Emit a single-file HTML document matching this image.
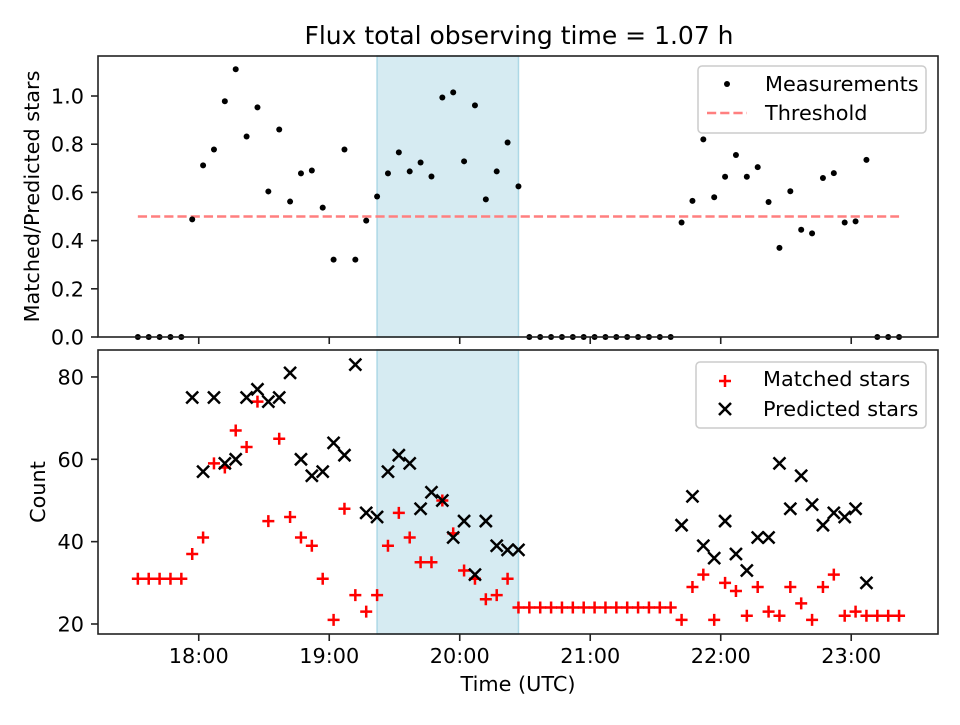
<!DOCTYPE html>
<html><head><meta charset="utf-8"><style>
body{margin:0;background:#fff;}
svg text{font-family:"DejaVu Sans","Liberation Sans",sans-serif;fill:#000;}
</style></head><body>
<svg id="chart" width="960" height="720" xmlns="http://www.w3.org/2000/svg"></svg>
<script>
const times=["17:32","17:37","17:42","17:47","17:52","17:57","18:02","18:07","18:12","18:17","18:22","18:27","18:32","18:37","18:42","18:47","18:52","18:57","19:02","19:07","19:12","19:17","19:22","19:27","19:32","19:37","19:42","19:47","19:52","19:57","20:02","20:07","20:12","20:17","20:22","20:27","20:32","20:37","20:42","20:47","20:52","20:57","21:02","21:07","21:12","21:17","21:22","21:27","21:32","21:37","21:42","21:47","21:52","21:57","22:02","22:07","22:12","22:17","22:22","22:27","22:32","22:37","22:42","22:47","22:52","22:57","23:02","23:07","23:12","23:17","23:22"];
const ratio=[0,0,0,0,0,0.488,0.712,0.778,0.978,1.111,0.832,0.953,0.604,0.861,0.562,0.679,0.691,0.537,0.321,0.778,0.321,0.483,0.583,0.679,0.766,0.687,0.724,0.666,0.994,1.015,0.729,0.961,0.571,0.687,0.807,0.625,0,0,0,0,0,0,0,0,0,0,0,0,0,0,0.475,0.565,0.82,0.58,0.665,0.755,0.665,0.705,0.56,0.37,0.605,0.445,0.43,0.66,0.68,0.475,0.48,0.735,0,0,0];
const matched=[31,31,31,31,31,37,41,59,58,67,63,74,45,65,46,41,39,31,21,48,27,23,27,39,47,41,35,35,50,42,33,31,26,27,31,24,24,24,24,24,24,24,24,24,24,24,24,24,24,24,21,29,32,21,30,28,22,29,23,22,29,25,21,29,32,22,23,22,22,22,22];
const predicted=[null,null,null,null,null,75,57,75,59,60,75,77,74,75,81,60,56,57,64,61,83,47,46,57,61,59,48,52,50,41,45,32,45,39,38,38,null,null,null,null,null,null,null,null,null,null,null,null,null,null,44,51,39,36,45,37,33,41,41,59,48,56,49,44,47,46,48,30,null,null,null];
const threshold=0.5;
const spanStart="19:22", spanEnd="20:27";
const xTicks=["18:00","19:00","20:00","21:00","22:00","23:00"];
const topTicks=[0,0.2,0.4,0.6,0.8,1.0];
const botTicks=[20,40,60,80];

const NS="http://www.w3.org/2000/svg";
const svg=document.getElementById('chart');
function el(tag,attrs,parent){const e=document.createElementNS(NS,tag);for(const k in attrs)e.setAttribute(k,attrs[k]);(parent||svg).appendChild(e);return e;}
function hrs(t){const p=t.split(':');return +p[0]+(+p[1])/60;}
const L=98,R=938,T1=56,B1=337,T2=350,B2=634;
const xMin=17.228,xMax=23.665;
function X(t){return L+(hrs(t)-xMin)/(xMax-xMin)*(R-L);}
const y1Min=0,y1Max=1.166;
function Y1(v){return B1-(v-y1Min)/(y1Max-y1Min)*(B1-T1);}
const y2Min=17.57,y2Max=86.55;
function Y2(v){return B2-(v-y2Min)/(y2Max-y2Min)*(B2-T2);}
const FS='20.8';

let t=el('text',{x:519,y:44,'font-size':'25','text-anchor':'middle'});t.textContent="Flux total observing time = 1.07 h";


function panel(T,B,name){
  const g=el('g',{});
  
  
  const sp=el('rect',{x:X(spanStart),y:T,width:X(spanEnd)-X(spanStart),height:B-T,fill:'#add8e6','fill-opacity':0.5,stroke:'#add8e6','stroke-width':1.5},g);
  
  
  return g;
}
const g1=panel(T1,B1,'top-panel');
const g2=panel(T2,B2,'bottom-panel');

const th=el('line',{x1:X(times[0]),x2:X(times[times.length-1]),y1:Y1(threshold),y2:Y1(threshold),stroke:'#ff7f7f','stroke-width':2.5,'stroke-dasharray':'9.2,4'},g1);



times.forEach((tt,i)=>{
  const c=el('circle',{cx:X(tt),cy:Y1(ratio[i]),r:3,fill:'#000'},g1);
  
  
});
times.forEach((tt,i)=>{
  const x=X(tt),y=Y2(matched[i]);
  const p=el('path',{d:`M${x-6} ${y}H${x+6}M${x} ${y-6}V${y+6}`,stroke:'#f00','stroke-width':2.5},g2);
  
  
});
times.forEach((tt,i)=>{
  if(predicted[i]===null)return;
  const x=X(tt),y=Y2(predicted[i]);
  const p=el('path',{d:`M${x-6} ${y-6}L${x+6} ${y+6}M${x-6} ${y+6}L${x+6} ${y-6}`,stroke:'#000','stroke-width':2.5},g2);
  
  
});

[[T1,B1],[T2,B2]].forEach(([T,B])=>{
  const f=el('rect',{x:L,y:T,width:R-L,height:B-T,fill:'none',stroke:'#222','stroke-width':1.6});
  
  
});
xTicks.forEach(tk=>{
  const x=X(tk);
  el('line',{x1:x,x2:x,y1:B1,y2:B1+7,stroke:'#222','stroke-width':1.6});
  el('line',{x1:x,x2:x,y1:B2,y2:B2+7,stroke:'#222','stroke-width':1.6});
  const tx=el('text',{x:x,y:663,'font-size':FS,'text-anchor':'middle'});tx.textContent=tk;
  
  
});
topTicks.forEach(v=>{
  const y=Y1(v);
  el('line',{x1:L-7,x2:L,y1:y,y2:y,stroke:'#222','stroke-width':1.6});
  const tx=el('text',{x:84,y:y+7.5,'font-size':FS,'text-anchor':'end'});tx.textContent=v.toFixed(1);
  
  
});
botTicks.forEach(v=>{
  const y=Y2(v);
  el('line',{x1:L-7,x2:L,y1:y,y2:y,stroke:'#222','stroke-width':1.6});
  const tx=el('text',{x:84,y:y+7.5,'font-size':FS,'text-anchor':'end'});tx.textContent=v;
  
  
});
let lab=el('text',{x:518,y:691,'font-size':FS,'text-anchor':'middle'});lab.textContent="Time (UTC)";

lab=el('text',{x:0,y:0,'font-size':FS,'text-anchor':'middle',transform:`translate(39,${(T1+B1)/2}) rotate(-90)`});lab.textContent="Matched/Predicted stars";

lab=el('text',{x:0,y:0,'font-size':FS,'text-anchor':'middle',transform:`translate(45,${(T2+B2)/2}) rotate(-90)`});lab.textContent="Count";


function legend(x,y,w,h,name){
  const g=el('g',{});
  
  
  el('rect',{x:x,y:y,width:w,height:h,rx:4,fill:'#fff','fill-opacity':0.8,stroke:'#ccc','stroke-width':1.5},g);
  return g;
}
let lg=legend(698,66,228,67,'top-legend');
el('circle',{cx:727,cy:84,r:3,fill:'#000'},lg);
let lt=el('text',{x:765,y:91,'font-size':FS},lg);lt.textContent="Measurements";

el('line',{x1:707,x2:747,y1:113,y2:113,stroke:'#ff7f7f','stroke-width':2.5,'stroke-dasharray':'9.2,4'},lg);
lt=el('text',{x:765,y:120,'font-size':FS},lg);lt.textContent="Threshold";

lg=legend(696,362,230,66,'bottom-legend');
el('path',{d:'M719 381H731M725 375V387',stroke:'#f00','stroke-width':2.5},lg);
lt=el('text',{x:763,y:386,'font-size':FS},lg);lt.textContent="Matched stars";

el('path',{d:'M719 403L731 415M719 415L731 403',stroke:'#000','stroke-width':2.5},lg);
lt=el('text',{x:763,y:416,'font-size':FS},lg);lt.textContent="Predicted stars";

</script>
</body></html>
